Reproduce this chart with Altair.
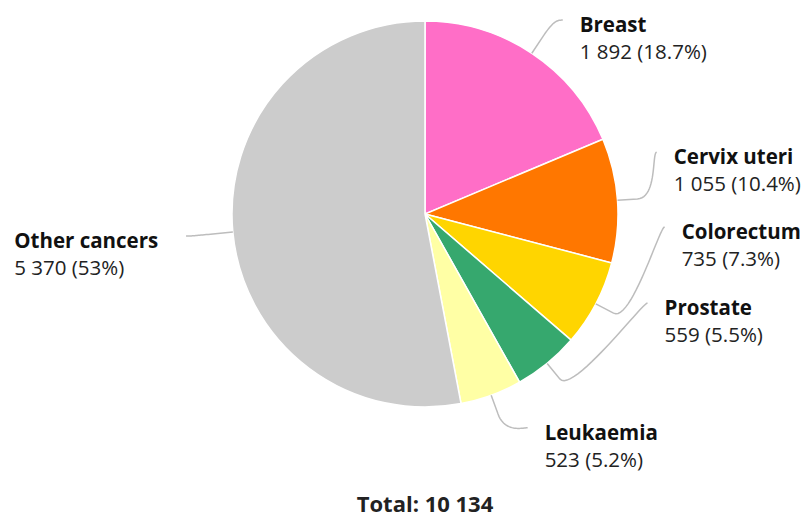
import math
import altair as alt
import pandas as pd

# ---- data ----
categories = ["Breast", "Cervix uteri", "Colorectum", "Prostate", "Leukaemia", "Other cancers"]
counts = [1892, 1055, 735, 559, 523, 5370]
colors = ["#FF6EC7", "#FF7700", "#FFD500", "#36A86E", "#FFFFA5", "#CCCCCC"]

# ---- layout (pixels inside the plot area) ----
W, H = 795, 512
CX, CY, R = 417, 206, 193          # pie centre and radius
LABEL_R = 235                      # circle on which connectors end
BREAK = 20                         # first connector break outside the pie
TEXT_GAP_R = 22                    # gap between connector end and right-side label
TEXT_GAP_L = 37                    # gap between connector end and left-side label block
FS = 20.5                          # label font size
# angular nudges (deg) applied to labels to avoid overlaps
label_nudge = [0.8, -11.2, -24.6, -28.5, -4.5, 0.0]

total = sum(counts)

# approximate Open Sans Bold advance widths (em) for block alignment
BOLD_W = {" ": 0.26, "O": 0.81, "t": 0.375, "h": 0.635, "e": 0.58, "r": 0.45,
          "c": 0.49, "a": 0.575, "n": 0.635, "s": 0.49}


def bold_width(s, fs):
    return sum(BOLD_W.get(ch, 0.6) for ch in s) * fs


def fmt_int(v):
    return f"{v:,}".replace(",", " ")


def fmt_pct(v):
    s = f"{v:.1f}"
    if s.endswith(".0"):
        s = s[:-2]
    return s + "%"


rows, line_rows = [], []
cum = 0
for i, (cat, n) in enumerate(zip(categories, counts)):
    mid = (cum + n / 2) / total * 2 * math.pi
    cum += n
    side = 1 if math.sin(mid) >= 0 else -1
    phi = mid + math.radians(label_nudge[i])
    lx, ly = CX + LABEL_R * math.sin(phi), CY - LABEL_R * math.cos(phi)
    p4 = (CX + R * math.sin(mid), CY - R * math.cos(mid))
    p2 = (CX + (R + BREAK) * math.sin(mid), CY - (R + BREAK) * math.cos(mid))
    c2 = (2 * p2[0] - p4[0], 2 * p2[1] - p4[1])
    s0 = (lx + 5 * side, ly)
    c1 = (lx, ly)
    k = 0
    steps = 24
    for j in range(steps + 1):
        t = j / steps
        a, b, c, d = (1 - t) ** 3, 3 * (1 - t) ** 2 * t, 3 * (1 - t) * t ** 2, t ** 3
        x = a * s0[0] + b * c1[0] + c * c2[0] + d * p2[0]
        y = a * s0[1] + b * c1[1] + c * c2[1] + d * p2[1]
        line_rows.append({"cat": cat, "k": k, "px": x, "py": y})
        k += 1
    line_rows.append({"cat": cat, "k": k, "px": p4[0], "py": p4[1]})
    if side > 0:
        tx = lx + TEXT_GAP_R
    else:
        tx = lx - TEXT_GAP_L - bold_width(cat, FS)
    rows.append({
        "cat": cat, "idx": i, "n": n, "tx": tx, "ty": ly,
        "value": f"{fmt_int(n)} ({fmt_pct(n / total * 100)})",
    })

df = pd.DataFrame(rows)
lines = pd.DataFrame(line_rows)

xs = alt.Scale(domain=[0, W], range=[0, W])
ys = alt.Scale(domain=[0, H], range=[0, H])
FONT = "Open Sans"

pie = alt.Chart(df).mark_arc(radius=R, stroke="white", strokeWidth=1.5).encode(
    theta=alt.Theta("n:Q", stack=True),
    order=alt.Order("idx:Q"),
    color=alt.Color("cat:N", scale=alt.Scale(domain=categories, range=colors), legend=None),
    x=alt.value(CX),
    y=alt.value(CY),
)

conn = alt.Chart(lines).mark_line(color="#BDBDBD", strokeWidth=1.5).encode(
    x=alt.X("px:Q", scale=xs, axis=None),
    y=alt.Y("py:Q", scale=ys, axis=None),
    detail="cat:N",
    order="k:Q",
)

enc = dict(x=alt.X("tx:Q", scale=xs, axis=None), y=alt.Y("ty:Q", scale=ys, axis=None))
names = alt.Chart(df).mark_text(align="left", baseline="alphabetic", dy=12, font=FONT,
                                fontSize=FS, fontWeight="bold", color="#111111").encode(
    text="cat:N", **enc)
values = alt.Chart(df).mark_text(align="left", baseline="alphabetic", dy=39, font=FONT,
                                 fontSize=FS, color="#222222").encode(
    text="value:N", **enc)

total_df = pd.DataFrame({"t": [f"Total: {fmt_int(total)}"]})
total_txt = alt.Chart(total_df).mark_text(
    font=FONT, fontSize=22, fontWeight="bold", color="#222222",
    baseline="alphabetic", align="center",
).encode(text="t:N", x=alt.value(CX), y=alt.value(CY + 298))

chart = alt.layer(
    pie, conn, names, values, total_txt
).properties(
    width=W, height=H, padding=0, autosize=alt.AutoSizeParams(type="none")
).configure_view(stroke=None)

chart.save("out.html", embed_options={"renderer": "svg", "actions": False})
